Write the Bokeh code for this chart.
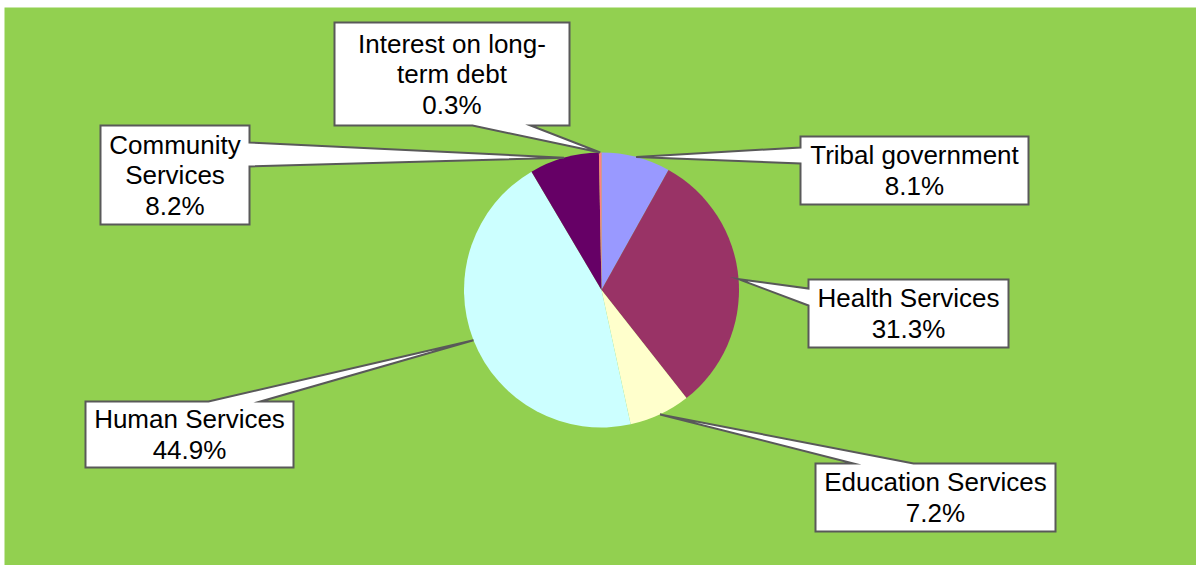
import math
from bokeh.plotting import figure
from bokeh.models import Range1d, ColumnDataSource
from bokeh.core.properties import value
from bokeh.embed import file_html
from bokeh.resources import INLINE

# ---- data ----
categories = ["Tribal government", "Health Services", "Education Services",
              "Human Services", "Community Services", "Interest on long-term debt"]
shares = [8.1, 31.3, 7.2, 44.9, 8.2, 0.3]
slice_colors = ["#9999FF", "#993366", "#FFFFCC", "#CCFFFF", "#660066", "#FF8080"]

# ---- layout (screen pixels, y downward) ----
W, H = 1196, 565
LEFT, TOP = 4, 7
CX, CY, R = 601, 289.5, 137.5
label_lines = [["Tribal government"], ["Health Services"], ["Education Services"],
               ["Human Services"], ["Community", "Services"], ["Interest on long-", "term debt"]]
boxes = [(800, 136, 1028, 204), (808, 279, 1008, 347), (815, 463, 1055, 531),
         (85, 401, 293, 467), (100, 125, 249, 224), (334, 22, 569, 125)]
pointer_side = ["left", "left", "top", "top", "right", "bottom"]
pointer_base = [(147, 163), (288, 305), (853, 913), (208, 260), (142, 166), (472, 530)]
LINE_H = 30.5

def Y(y):
    return H - y

p = figure(width=W, height=H, output_backend="svg", toolbar_location=None,
           x_range=Range1d(LEFT, W), y_range=Range1d(0, H - TOP),
           min_border_left=LEFT, min_border_top=TOP, min_border_right=0, min_border_bottom=0)
p.axis.visible = False
p.grid.visible = False
p.outline_line_color = None
p.background_fill_color = "#92D050"
p.border_fill_color = "white"

total = sum(shares)
starts, ends, mids = [], [], []
cum = 0.0
for v in shares:
    a0 = cum / total
    cum += v
    a1 = cum / total
    starts.append(math.pi / 2 - 2 * math.pi * a0)
    ends.append(math.pi / 2 - 2 * math.pi * a1)
    mids.append(2 * math.pi * (a0 + a1) / 2)

src = ColumnDataSource(dict(start=starts, end=ends, color=slice_colors, cat=categories, share=shares))
p.wedge(x=CX, y=Y(CY), radius=R, start_angle="start", end_angle="end", direction="clock",
        fill_color="color", line_color=None, source=src)

xs, ys = [], []
tx, ty, tt = [], [], []
for i, v in enumerate(shares):
    x0, y0, x1, y1 = boxes[i]
    tipx = CX + R * math.sin(mids[i])
    tipy = CY - R * math.cos(mids[i])
    b1, b2 = pointer_base[i]
    side = pointer_side[i]
    pts = [(x0, y0)]
    if side == "top":
        pts += [(b1, y0), (tipx, tipy), (b2, y0)]
    pts += [(x1, y0)]
    if side == "right":
        pts += [(x1, b1), (tipx, tipy), (x1, b2)]
    pts += [(x1, y1)]
    if side == "bottom":
        pts += [(b2, y1), (tipx, tipy), (b1, y1)]
    pts += [(x0, y1)]
    if side == "left":
        pts += [(x0, b2), (tipx, tipy), (x0, b1)]
    xs.append([q[0] for q in pts])
    ys.append([Y(q[1]) for q in pts])
    lines = label_lines[i] + [f"{v:.1f}%"]
    cxb = (x0 + x1) / 2
    cyb = (y0 + y1) / 2
    n = len(lines)
    for k, s in enumerate(lines):
        tx.append(cxb)
        ty.append(Y(cyb + (k - (n - 1) / 2) * LINE_H))
        tt.append(s)

p.patches(xs=xs, ys=ys, fill_color="white", line_color="#595959", line_width=2, line_join="miter")
p.text(x=tx, y=ty, text=tt, text_align="center", text_baseline="middle",
       text_font=value("Liberation Sans"), text_font_size="26px", text_color="black")

open("out.html", "w").write(file_html(p, INLINE))
